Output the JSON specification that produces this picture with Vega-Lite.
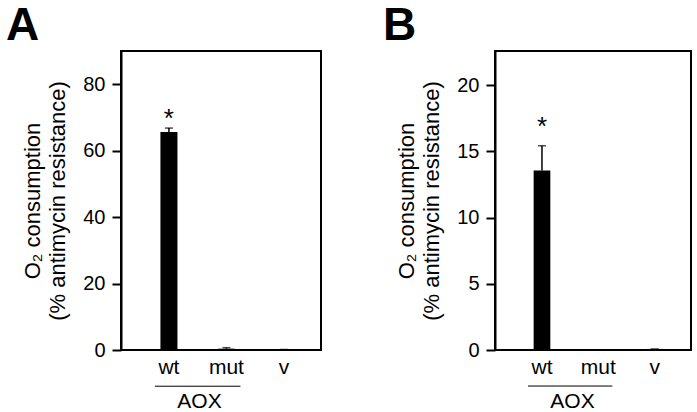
{
  "$schema": "https://vega.github.io/schema/vega-lite/v6.json",
  "padding": {"left": 5, "top": 2, "right": 5, "bottom": 0},
  "background": "white",
  "spacing": 60,
  "datasets": {
    "A": [
      {"cat": "wt", "value": 65.6, "hi": 66.8, "sig": "*"},
      {"cat": "mut", "value": 0.4, "hi": 0.7, "sig": ""},
      {"cat": "v", "value": 0.15, "hi": 0.15, "sig": ""}
    ],
    "B": [
      {"cat": "wt", "value": 13.55, "hi": 15.42, "sig": "*"},
      {"cat": "mut", "value": 0, "hi": 0, "sig": ""},
      {"cat": "v", "value": 0.08, "hi": 0.08, "sig": ""}
    ],
    "grp": [
      {"from": "wt", "to": "mut", "label": "AOX"}
    ]
  },
  "hconcat": [
    {
      "width": 200,
      "height": 299,
      "title": {"text": "A", "anchor": "start", "frame": "group", "dx": -115, "fontSize": 46, "fontWeight": "bold", "font": "Liberation Sans", "baseline": "alphabetic", "offset": -35, "color": "black"},
      "layer": [
        {
          "data": {"name": "A"},
          "mark": {"type": "bar", "color": "black"},
          "encoding": {
            "x": {"field": "cat", "type": "nominal", "sort": ["wt", "mut", "v"],
              "scale": {"domain": ["wt", "mut", "v"], "paddingInner": 0.704, "paddingOuter": 0.591, "align": 0.58},
              "axis": {"title": "AOX", "ticks": false, "domain": false, "labelAngle": 0, "labelFontSize": 21, "labelPadding": 6, "titleX": 78, "titleY": 57, "titleBaseline": "alphabetic", "titleFontSize": 21}},
            "y": {"field": "value", "type": "quantitative",
              "scale": {"domain": [0, 90], "nice": false},
              "axis": {"values": [0, 20, 40, 60, 80], "title": ["O₂ consumption", "(% antimycin resistance)"], "titleFontSize": 22, "titleLineHeight": 25, "titlePadding": 13, "tickSize": 9, "tickWidth": 2, "domainWidth": 2, "labelFontSize": 20, "labelPadding": 7}}
          }
        },
        {
          "data": {"name": "A"},
          "mark": {"type": "rule", "color": "black", "strokeWidth": 1.5},
          "encoding": {
            "x": {"field": "cat", "type": "nominal"},
            "y": {"field": "value", "type": "quantitative"},
            "y2": {"field": "hi"}
          }
        },
        {
          "data": {"name": "A"},
          "mark": {"type": "tick", "color": "black", "size": 8, "thickness": 1.5, "orient": "horizontal"},
          "encoding": {
            "x": {"field": "cat", "type": "nominal"},
            "y": {"field": "hi", "type": "quantitative"}
          }
        },
        {
          "data": {"name": "A"},
          "mark": {"type": "text", "color": "black", "fontSize": 26, "font": "Liberation Sans", "baseline": "alphabetic", "dy": -1},
          "encoding": {
            "x": {"field": "cat", "type": "nominal"},
            "y": {"field": "hi", "type": "quantitative"},
            "text": {"field": "sig"}
          }
        },
        {
          "data": {"name": "grp"},
          "mark": {"type": "rule", "color": "black", "strokeWidth": 1, "xOffset": -14, "x2Offset": 14},
          "encoding": {
            "x": {"field": "from", "type": "nominal"},
            "x2": {"field": "to"},
            "y": {"datum": -10.9, "type": "quantitative"}
          }
        }
      ]
    },
    {
      "width": 196,
      "height": 299,
      "title": {"text": "B", "anchor": "start", "frame": "group", "dx": -112, "fontSize": 46, "fontWeight": "bold", "font": "Liberation Sans", "baseline": "alphabetic", "offset": -35, "color": "black"},
      "layer": [
        {
          "data": {"name": "B"},
          "mark": {"type": "bar", "color": "black"},
          "encoding": {
            "x": {"field": "cat", "type": "nominal", "sort": ["wt", "mut", "v"],
              "scale": {"domain": ["wt", "mut", "v"], "paddingInner": 0.704, "paddingOuter": 0.591, "align": 0.58},
              "axis": {"title": "AOX", "ticks": false, "domain": false, "labelAngle": 0, "labelFontSize": 21, "labelPadding": 6, "titleX": 77, "titleY": 57, "titleBaseline": "alphabetic", "titleFontSize": 21}},
            "y": {"field": "value", "type": "quantitative",
              "scale": {"domain": [0, 22.57], "nice": false},
              "axis": {"values": [0, 5, 10, 15, 20], "title": ["O₂ consumption", "(% antimycin resistance)"], "titleFontSize": 22, "titleLineHeight": 25, "titlePadding": 13, "tickSize": 9, "tickWidth": 2, "domainWidth": 2, "labelFontSize": 20, "labelPadding": 7}}
          }
        },
        {
          "data": {"name": "B"},
          "mark": {"type": "rule", "color": "black", "strokeWidth": 1.5},
          "encoding": {
            "x": {"field": "cat", "type": "nominal"},
            "y": {"field": "value", "type": "quantitative"},
            "y2": {"field": "hi"}
          }
        },
        {
          "data": {"name": "B"},
          "mark": {"type": "tick", "color": "black", "size": 8, "thickness": 1.5, "orient": "horizontal"},
          "encoding": {
            "x": {"field": "cat", "type": "nominal"},
            "y": {"field": "hi", "type": "quantitative"}
          }
        },
        {
          "data": {"name": "B"},
          "mark": {"type": "text", "color": "black", "fontSize": 26, "font": "Liberation Sans", "baseline": "alphabetic", "dy": -11},
          "encoding": {
            "x": {"field": "cat", "type": "nominal"},
            "y": {"field": "hi", "type": "quantitative"},
            "text": {"field": "sig"}
          }
        },
        {
          "data": {"name": "grp"},
          "mark": {"type": "rule", "color": "black", "strokeWidth": 1, "xOffset": -14, "x2Offset": 14},
          "encoding": {
            "x": {"field": "from", "type": "nominal"},
            "x2": {"field": "to"},
            "y": {"datum": -2.72, "type": "quantitative"}
          }
        }
      ]
    }
  ],
  "config": {
    "view": {"stroke": "black", "strokeWidth": 2},
    "axis": {"labelFont": "Liberation Sans", "titleFont": "Liberation Sans", "labelColor": "black", "titleColor": "black", "domainColor": "black", "tickColor": "black", "grid": false, "titleFontWeight": "normal"}
  }
}
